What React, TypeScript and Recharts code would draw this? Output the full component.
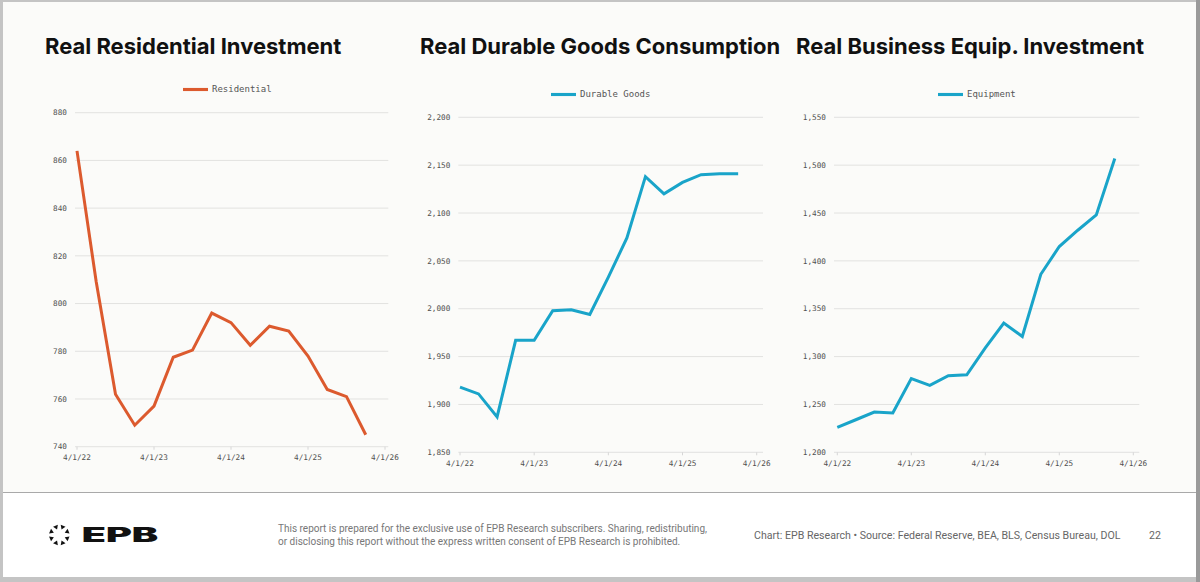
import { CartesianGrid, Legend, Line, LineChart, XAxis, YAxis } from 'recharts'

const quarters = [
  '4/1/22', '7/1/22', '10/1/22', '1/1/23',
  '4/1/23', '7/1/23', '10/1/23', '1/1/24',
  '4/1/24', '7/1/24', '10/1/24', '1/1/25',
  '4/1/25', '7/1/25', '10/1/25', '1/1/26',
  '4/1/26',
]
const xTickLabels = ['4/1/22', '4/1/23', '4/1/24', '4/1/25', '4/1/26']

const residential = [864, 809, 762, 749, 757, 777.5, 780.5, 796, 792, 782.5, 790.5, 788.5, 778, 764, 761, 745]
const durableGoods = [1918, 1911, 1887, 1967, 1967, 1998, 1999, 1994, 2033, 2074, 2138, 2120, 2132, 2140, 2141, 2141]
const equipment = [1226, 1234, 1242, 1241, 1277, 1270, 1280, 1281, 1309, 1335, 1321, 1386, 1415, 1432, 1448, 1507]

const residentialTicks = [740, 760, 780, 800, 820, 840, 860, 880]
const durableTicks = [1850, 1900, 1950, 2000, 2050, 2100, 2150, 2200]
const equipmentTicks = [1200, 1250, 1300, 1350, 1400, 1450, 1500, 1550]

const ORANGE = '#dc5a2e'
const CYAN = '#19a4c9'
const MONO = '"DejaVu Sans Mono", "Liberation Mono", monospace'
const TITLE_FONT = 'Inter, "Noto Sans", sans-serif'
const FOOT_FONT = '"Liberation Sans Narrow", Roboto, sans-serif'

const toRows = (values: number[]) =>
  quarters.map((q, i) => ({ date: q, value: i < values.length ? values[i] : null }))

type PanelProps = {
  title: string
  titleX: number
  name: string
  values: number[]
  color: string
  ticks: number[]
  left: number
  top: number
  width: number
  height: number
  margin: { top: number; right: number; bottom: number; left: number }
  xPad: { left: number; right: number }
  xHeight: number
  legendX: number
  legendY: number
}

function Panel(p: PanelProps) {
  return (
    <>
      <div
        style={{
          position: 'absolute',
          left: p.titleX,
          top: 33,
          fontFamily: TITLE_FONT,
          fontWeight: 700,
          fontSize: 22,
          lineHeight: '27px',
          color: '#111',
          whiteSpace: 'nowrap',
        }}
      >
        {p.title}
      </div>
      <div style={{ position: 'absolute', left: p.left, top: p.top }}>
        <LineChart width={p.width} height={p.height} data={toRows(p.values)} margin={p.margin}>
          <CartesianGrid vertical={false} stroke="#e2e2e0" />
          <XAxis
            dataKey="date"
            ticks={xTickLabels}
            interval={0}
            padding={p.xPad}
            height={p.xHeight}
            axisLine={false}
            tickLine={{ stroke: '#d6d6d6' }}
            tickSize={3}
            tickMargin={5}
            tick={{ fill: '#505050', fontSize: 7.7, fontFamily: MONO }}
          />
          <YAxis
            domain={[p.ticks[0], p.ticks[p.ticks.length - 1]]}
            ticks={p.ticks}
            width={45}
            axisLine={false}
            tickLine={false}
            tickFormatter={(v) => Number(v).toLocaleString('en-US')}
            tick={{ fill: '#505050', fontSize: 7.7, fontFamily: MONO }}
          />
          <Legend
            verticalAlign="middle"
            align="center"
            layout="horizontal"
            iconType="plainline"
            iconSize={25}
            formatter={(v) => <span style={{ color: '#555' }}>{v}</span>}
            wrapperStyle={{
              top: p.legendY - p.top - 13,
              left: p.legendX - p.left,
              width: 'auto',
              fontFamily: MONO,
              fontSize: 9,
              lineHeight: '25px',
            }}
          />
          <Line
            type="linear"
            dataKey="value"
            name={p.name}
            stroke={p.color}
            strokeWidth={3}
            dot={false}
            connectNulls={false}
            isAnimationActive={false}
          />
        </LineChart>
      </div>
    </>
  )
}

function Logo() {
  const marks = Array.from({ length: 8 }, (_, i) => i * 45 + 22.5)
  return (
    <svg width={140} height={40} style={{ position: 'absolute', left: 40, top: 515 }}>
      {marks.map((a) => (
        <polygon
          key={a}
          points="-2.6,-1.5 2.6,-1.5 0,2.6"
          fill="#111"
          transform={`translate(19.3 20) rotate(${a}) translate(0 -8.5)`}
        />
      ))}
      <text
        x={41.7}
        y={26.8}
        textLength={76.6}
        lengthAdjust="spacingAndGlyphs"
        fontFamily={TITLE_FONT}
        fontWeight={900}
        fontSize={19.5}
        fill="#111"
      >
        EPB
      </text>
    </svg>
  )
}

export default function App() {
  return (
    <div
      style={{
        position: 'absolute',
        left: 0,
        top: 0,
        width: 1200,
        height: 582,
        background: '#c4c4c4',
        overflow: 'hidden',
      }}
    >
      <div
        style={{
          position: 'absolute',
          left: 3,
          top: 2,
          width: 1193,
          height: 575,
          background: '#ffffff',
        }}
      />
      <div
        style={{
          position: 'absolute',
          left: 3,
          top: 2,
          width: 1193,
          height: 490,
          background: '#fbfbf9',
        }}
      />
      <div style={{ position: 'absolute', left: 3, top: 492, width: 1193, height: 1, background: '#a9a9a9' }} />
      <div style={{ position: 'absolute', left: 1196, top: 0, width: 4, height: 582, background: '#9a9a9a' }} />

      <Panel
        title="Real Residential Investment"
        titleX={45}
        name="Residential"
        values={residential}
        color={ORANGE}
        ticks={residentialTicks}
        left={20}
        top={60}
        width={385}
        height={420}
        margin={{ top: 52.7, right: 16.7, bottom: 3.3, left: 10 }}
        xPad={{ left: 2, right: 3.3 }}
        xHeight={30}
        legendX={183}
        legendY={90}
      />
      <Panel
        title="Real Durable Goods Consumption"
        titleX={420}
        name="Durable Goods"
        values={durableGoods}
        color={CYAN}
        ticks={durableTicks}
        left={400}
        top={60}
        width={380}
        height={420}
        margin={{ top: 57.3, right: 17, bottom: 2.7, left: 13.3 }}
        xPad={{ left: 1.7, right: 6.3 }}
        xHeight={25}
        legendX={551}
        legendY={95}
      />
      <Panel
        title="Real Business Equip. Investment"
        titleX={796}
        name="Equipment"
        values={equipment}
        color={CYAN}
        ticks={equipmentTicks}
        left={780}
        top={60}
        width={400}
        height={420}
        margin={{ top: 57.3, right: 40.7, bottom: 2.7, left: 9 }}
        xPad={{ left: 3.3, right: 6 }}
        xHeight={25}
        legendX={938}
        legendY={95}
      />

      <Logo />
      <div
        style={{
          position: 'absolute',
          left: 278,
          top: 523,
          width: 440,
          fontFamily: FOOT_FONT,
          fontSize: 10,
          lineHeight: '12.7px',
          color: '#777',
        }}
      >
        This report is prepared for the exclusive use of EPB Research subscribers. Sharing, redistributing,
        <br />
        or disclosing this report without the express written consent of EPB Research is prohibited.
      </div>
      <div
        style={{
          position: 'absolute',
          left: 754,
          top: 529,
          fontFamily: FOOT_FONT,
          fontSize: 10.6,
          color: '#666',
          whiteSpace: 'nowrap',
        }}
      >
        Chart: EPB Research {'\u2022'} Source: Federal Reserve, BEA, BLS, Census Bureau, DOL
      </div>
      <div
        style={{
          position: 'absolute',
          left: 1149,
          top: 529,
          fontFamily: FOOT_FONT,
          fontSize: 10.6,
          color: '#666',
        }}
      >
        22
      </div>
    </div>
  )
}
